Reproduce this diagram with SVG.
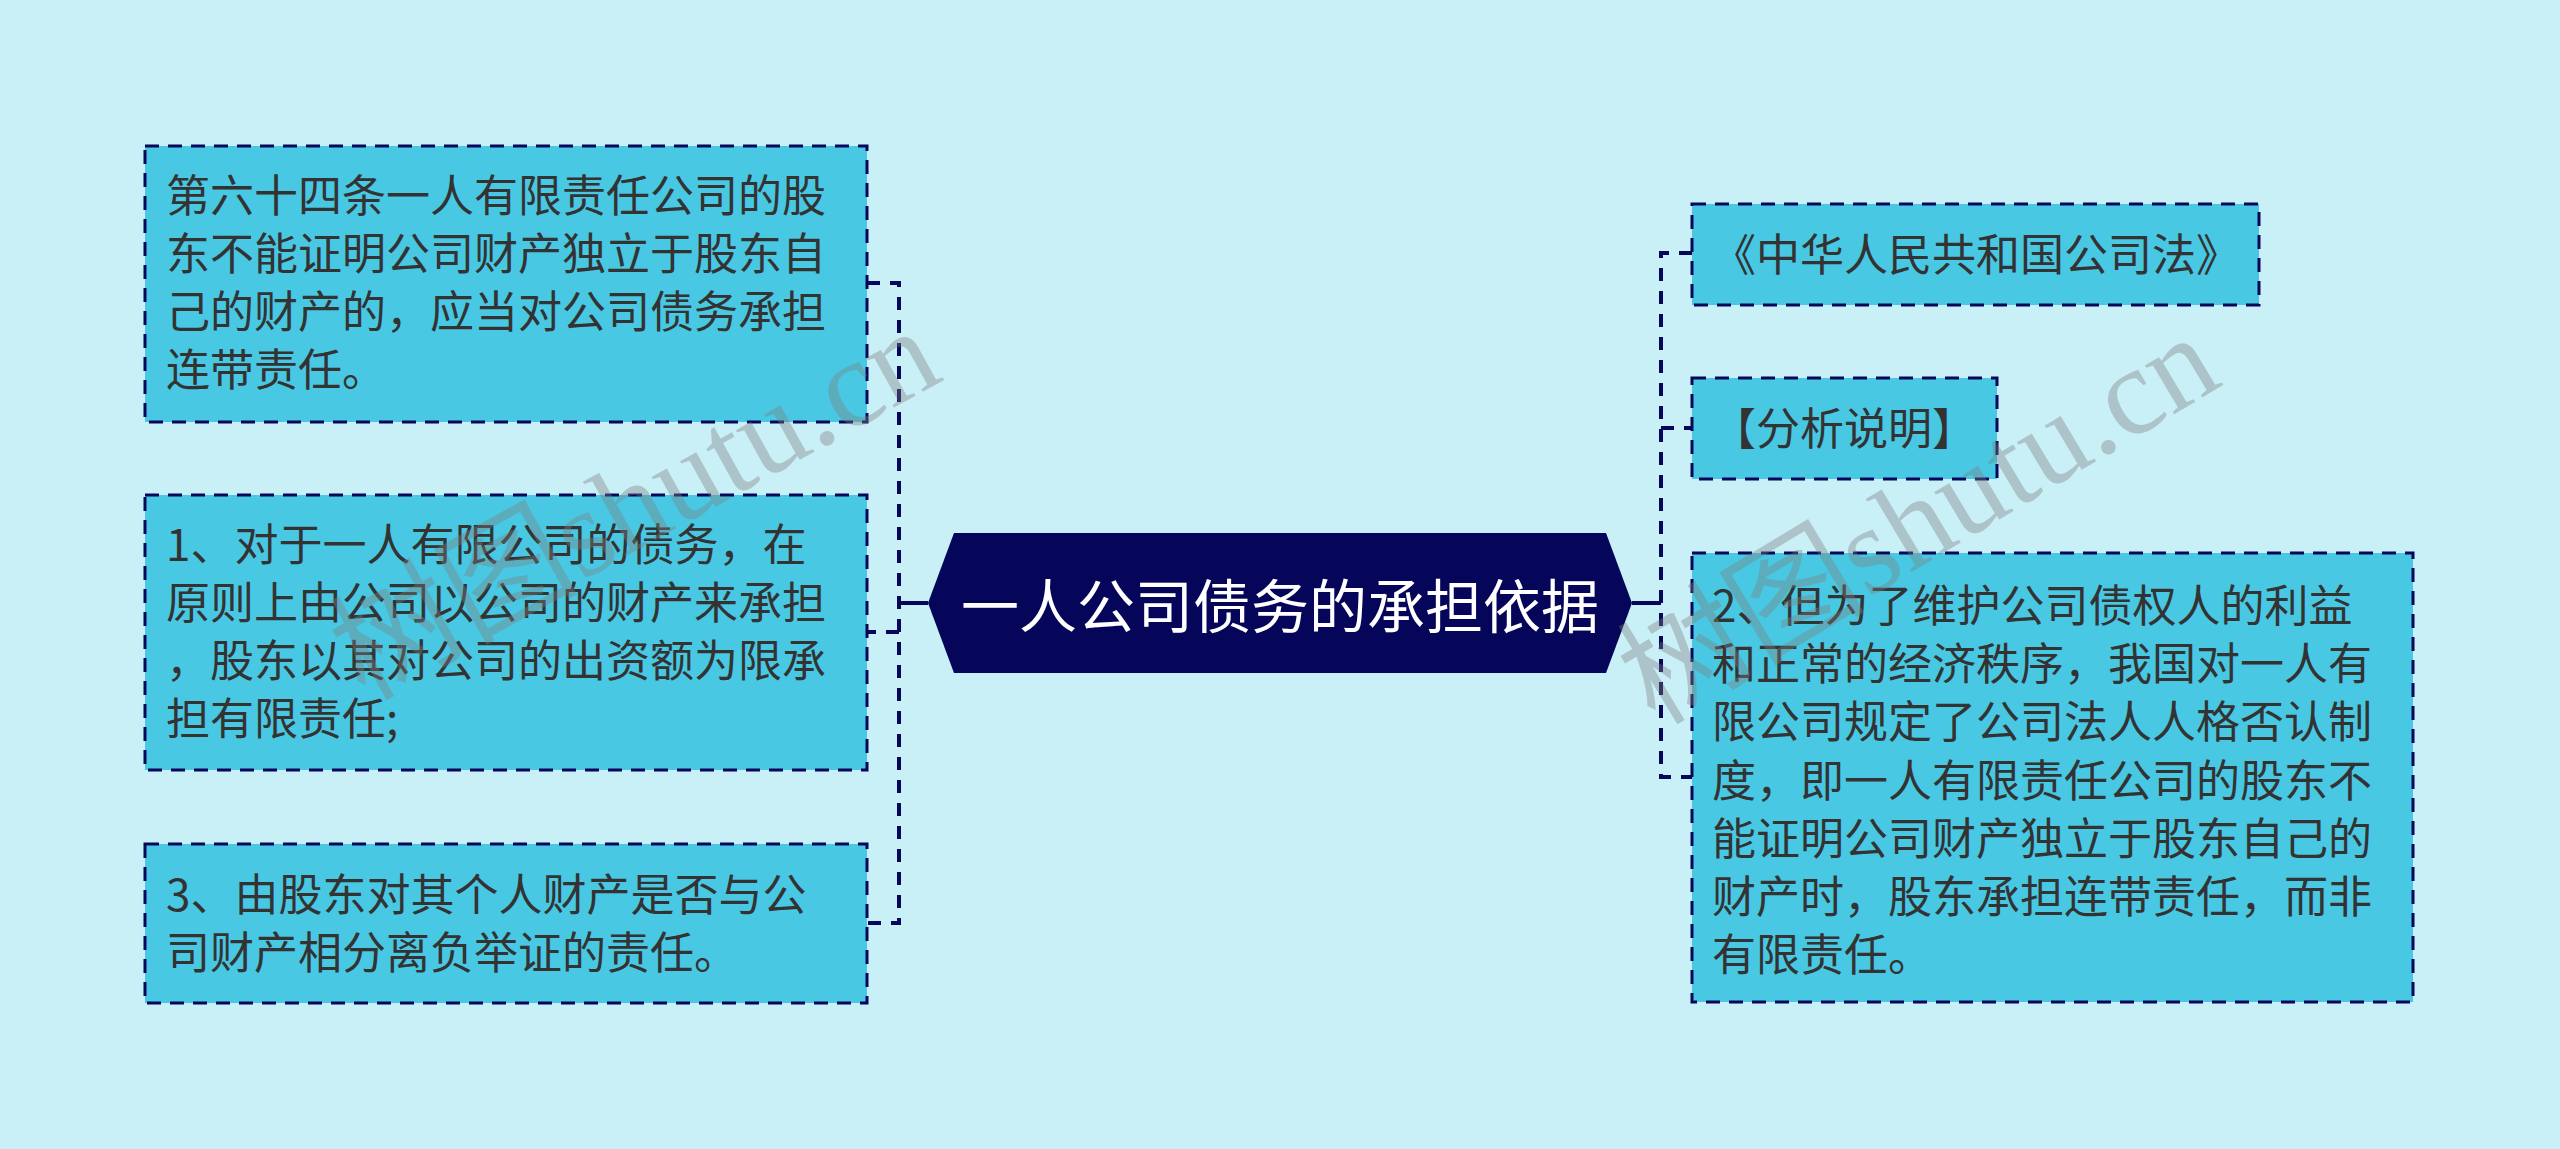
<svg xmlns="http://www.w3.org/2000/svg" width="2560" height="1149" viewBox="0 0 2560 1149">
<style>
.bg{fill:#c9f0f7}
.box{fill:#48c8e3;stroke:#06075a;stroke-width:3;stroke-dasharray:14 9}
.t{font-family:"Noto Sans CJK SC","Noto Sans",sans-serif;font-size:44px;fill:#333333}
.root{fill:#05055a}
.rt{font-family:"Noto Sans CJK SC","Noto Sans",sans-serif;font-size:58px;fill:#ffffff}
.c{fill:none;stroke:#06075a;stroke-width:4}
.cd{fill:none;stroke:#06075a;stroke-width:4;stroke-dasharray:13 10}
.wm{font-family:"Liberation Serif","Noto Sans CJK SC",serif;font-size:124px;fill:#7f7f7f;opacity:0.38}
</style>
<rect class="bg" x="0" y="0" width="2560" height="1149"/>
<g id="connectors">
<path class="c" d="M928,603 H899"/>
<path class="cd" d="M867,283 H899 V923 H867"/>
<path class="cd" d="M899,632 H867"/>
<path class="c" d="M1632,603 H1661"/>
<path class="cd" d="M1692,253 H1661 V777 H1692"/>
<path class="cd" d="M1661,428 H1692"/>
</g>
<g id="root">
<polygon class="root" points="928,603 954,533 1606,533 1632,603 1606,673 954,673"/>
<text class="rt" x="1280" y="628" text-anchor="middle">一人公司债务的承担依据</text>
</g>
<g id="node-l1">
<rect class="box" x="145" y="146" width="722" height="276"/>
<text class="t"><tspan x="166" y="212">第六十四条一人有限责任公司的股</tspan><tspan x="166" y="270">东不能证明公司财产独立于股东自</tspan><tspan x="166" y="328">己的财产的，应当对公司债务承担</tspan><tspan x="166" y="386">连带责任。</tspan></text>
</g>
<g id="node-l2">
<rect class="box" x="145" y="495" width="722" height="275"/>
<text class="t"><tspan x="166" y="561">1、对于一人有限公司的债务，在</tspan><tspan x="166" y="619">原则上由公司以公司的财产来承担</tspan><tspan x="166" y="677">，股东以其对公司的出资额为限承</tspan><tspan x="166" y="735">担有限责任;</tspan></text>
</g>
<g id="node-l3">
<rect class="box" x="145" y="844" width="722" height="159"/>
<text class="t"><tspan x="166" y="911">3、由股东对其个人财产是否与公</tspan><tspan x="166" y="969">司财产相分离负举证的责任。</tspan></text>
</g>
<g id="node-r1">
<rect class="box" x="1692" y="204" width="567" height="101"/>
<text class="t" x="1712" y="271">《中华人民共和国公司法》</text>
</g>
<g id="node-r2">
<rect class="box" x="1692" y="378" width="305" height="101"/>
<text class="t" x="1712" y="445">【分析说明】</text>
</g>
<g id="node-r3">
<rect class="box" x="1692" y="553" width="721" height="449"/>
<text class="t"><tspan x="1712" y="622">2、但为了维护公司债权人的利益</tspan><tspan x="1712" y="680">和正常的经济秩序，我国对一人有</tspan><tspan x="1712" y="738">限公司规定了公司法人人格否认制</tspan><tspan x="1712" y="797">度，即一人有限责任公司的股东不</tspan><tspan x="1712" y="855">能证明公司财产独立于股东自己的</tspan><tspan x="1712" y="913">财产时，股东承担连带责任，而非</tspan><tspan x="1712" y="971">有限责任。</tspan></text>
</g>
<g id="watermarks">
<text class="wm" x="0" y="0" text-anchor="middle" transform="translate(655,540) rotate(-29)">树图shutu.cn</text>
<text class="wm" x="0" y="0" text-anchor="middle" transform="translate(1940,555) rotate(-31)">树图shutu.cn</text>
</g>
</svg>
